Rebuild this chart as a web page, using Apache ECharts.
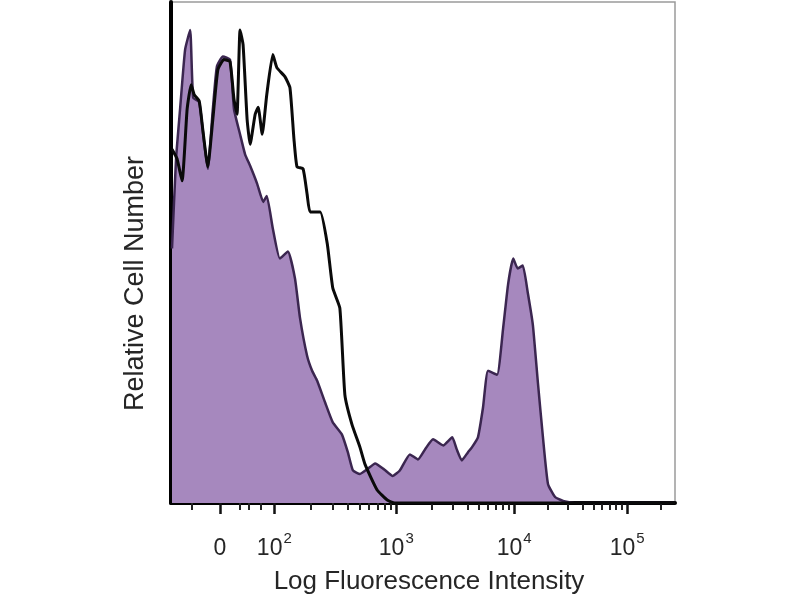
<!DOCTYPE html>
<html>
<head>
<meta charset="utf-8">
<script src="https://cdn.jsdelivr.net/npm/echarts@6/dist/echarts.min.js"></script>
<style>html,body{margin:0;padding:0;background:#fff;}#chart{width:800px;height:600px;}</style>
</head>
<body>
<div id="chart"></div>
<script>
// x: display channel (0-1000, biexponential scale); y: relative cell number (% of full scale)
const stainedX = [2,10,18,28,38,44,56,65,73,83,91,103,117,125,137,147,157,171,183,190,202,216,232,246,256,270,280,290,306,321,339,351,361,375,389,405,423,440,454,474,490,504,520,540,558,567,577,589,597,609,619,629,647,659,669,679,688,698,708,718,728,738,748,762,778,802,1000];
const stainedY = [50.8,68.7,78.6,90.5,94.4,80.9,80.0,72.6,66.7,78.6,87.1,89.1,88.5,78.6,73.6,69.6,67.3,63.7,60.1,61.3,54.8,48.8,50.2,44.8,36.9,29.4,26.4,24.4,20.0,16.1,13.7,10.1,6.5,5.8,6.7,7.9,6.7,5.4,6.5,9.7,8.7,10.7,12.7,11.5,13.1,10.7,8.5,10.1,11.1,13.1,19.0,26.4,25.6,34.9,43.8,48.8,46.8,47.4,41.9,35.5,24.0,13.1,3.8,1.2,0.4,0,0];
const controlX = [2,12,22,32,40,46,56,63,73,83,93,105,117,125,131,137,143,151,157,167,173,181,190,202,210,226,236,244,250,262,270,276,296,310,321,335,345,359,375,385,409,429,444,1000];
const controlY = [70.6,68.7,64.3,78.6,83.5,81.5,80.2,74.6,67.1,76.6,86.5,88.5,88.1,80.6,77.6,94.4,91.5,76.6,71.6,77.6,79.0,73.6,81.5,89.5,86.9,85.1,82.9,72.6,67.1,66.7,61.7,58.1,58.1,51.8,42.9,38.9,21.6,15.7,11.1,7.7,2.6,0.6,0,0];

const majorTickPos = [98, 205, 447, 681, 905];
const majorTickLabels = ['0', '10^2', '10^3', '10^4', '10^5'];
const linearMinorPos = [42, 137, 155, 178];

// minor log ticks between decades (scale geometry, not data)
const minorTickPos = linearMinorPos.slice();
for (let d = 1; d < majorTickPos.length; d++) {
  const a = majorTickPos[d], span = (d + 1 < majorTickPos.length ? majorTickPos[d + 1] - a : majorTickPos[d] - majorTickPos[d - 1]);
  for (let k = 2; k <= 9; k++) {
    const v = a + span * Math.log10(k);
    if (v < 1000) minorTickPos.push(Math.round(v));
  }
}

const zip = (xs, ys) => xs.map((x, i) => [x, ys[i]]);
const FONT = '"Liberation Sans", Arial, sans-serif';
const TXT = '#262626';

const chart = echarts.init(document.getElementById('chart'), null, {renderer: 'canvas'});
chart.setOption({
  animation: false,
  backgroundColor: '#fff',
  grid: {left: 171, right: 125, top: 2, bottom: 94, show: true, borderColor: '#9a9a9a', borderWidth: 1.5},
  xAxis: [{
    type: 'value', min: 0, max: 1000,
    splitLine: {show: false},
    axisLine: {lineStyle: {color: '#000', width: 4}},
    axisTick: {show: true, customValues: majorTickPos, length: 11, lineStyle: {color: '#111', width: 2.5}},
    axisLabel: {
      show: true, customValues: majorTickPos, margin: 28, color: TXT, fontFamily: FONT,
      formatter: function (v) {
        const i = majorTickPos.indexOf(v);
        const t = majorTickLabels[i] || '';
        if (t.indexOf('^') >= 0) {
          const p = t.split('^');
          return '{b|' + p[0] + '}{s|' + p[1] + '}';
        }
        return '{b|' + t + '}{s|\u200b}';
      },
      rich: {
        b: {fontSize: 23, fontFamily: FONT, color: TXT, verticalAlign: 'bottom'},
        s: {fontSize: 15, fontFamily: FONT, color: TXT, padding: [0, 0, 14, 1], verticalAlign: 'bottom'}
      }
    },
    name: 'Log Fluorescence Intensity', nameLocation: 'middle', nameGap: 66,
    nameTextStyle: {fontSize: 26, fontFamily: FONT, color: TXT, padding: [0, 0, 0, 12]}
  }, {
    type: 'value', min: 0, max: 1000, position: 'bottom',
    splitLine: {show: false},
    axisLine: {show: false},
    axisTick: {show: true, customValues: minorTickPos, length: 7, lineStyle: {color: '#222', width: 2}},
    axisLabel: {show: false}
  }],
  yAxis: {
    type: 'value', min: 0, max: 100,
    splitLine: {show: false},
    axisLine: {show: true, lineStyle: {color: '#000', width: 4}},
    axisTick: {show: false},
    axisLabel: {show: false},
    name: 'Relative Cell Number', nameLocation: 'middle', nameGap: 22, nameRotate: 90,
    nameTextStyle: {fontSize: 27, fontFamily: FONT, color: TXT, padding: [0, 62, 0, 0]}
  },
  series: [{
    name: 'Stained', type: 'line', data: zip(stainedX, stainedY), showSymbol: false, smooth: 0.15,
    lineStyle: {color: '#3b2650', width: 2.5},
    areaStyle: {color: '#a688be', opacity: 1},
    z: 2
  }, {
    name: 'Control', type: 'line', data: zip(controlX, controlY), showSymbol: false, smooth: 0.15,
    lineStyle: {color: '#0a0a0a', width: 3},
    z: 3
  }]
});
</script>
</body>
</html>
